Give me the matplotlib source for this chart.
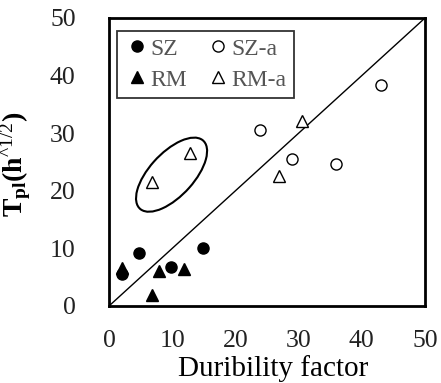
import matplotlib
matplotlib.use("Agg")
import matplotlib.pyplot as plt
from matplotlib.patches import Ellipse

plt.rcParams['font.family'] = ['Liberation Serif', 'DejaVu Serif']
plt.rcParams['mathtext.fontset'] = 'custom'
plt.rcParams['mathtext.rm'] = 'Liberation Serif'
plt.rcParams['mathtext.bf'] = 'Liberation Serif:bold'

# data
sz_x = [4.8, 2.0, 9.8, 14.9]
sz_y = [9.2, 5.6, 6.8, 10.0]
rm_x = [2.0, 7.9, 11.9, 6.8]
rm_y = [6.6, 6.0, 6.5, 1.9]
sza_x = [23.9, 28.9, 35.9, 43.0]
sza_y = [30.6, 25.6, 24.6, 38.4]
rma_x = [6.8, 12.8, 26.9, 30.5]
rma_y = [21.6, 26.6, 22.5, 32.2]
ticks = [0, 10, 20, 30, 40, 50]

fig = plt.figure(figsize=(4.41, 3.83), dpi=100)
ax = fig.add_axes([109 / 441, 1 - 306 / 383, 316 / 441, 288 / 383])

ms = 8
ax.plot(sz_x, sz_y, 'o', color='black', ms=ms, label='SZ', zorder=3)
ax.plot(sza_x, sza_y, 'o', mfc='white', mec='black', mew=1, ms=ms, label='SZ-a', zorder=3)
ax.plot(rm_x, rm_y, '^', color='black', ms=ms, label='RM', zorder=3)
ax.plot(rma_x, rma_y, '^', mfc='white', mec='black', mew=1, ms=ms, label='RM-a', zorder=3)
ax.plot([0, 50], [0, 50], color='black', lw=1, zorder=2)

ell = Ellipse((9.9, 22.8), width=15.5, height=7.2, angle=51, fill=False, ec='black', lw=1.5)
ax.add_patch(ell)

ax.set_xlim(0, 50)
ax.set_ylim(0, 50)
ax.set_xticks(ticks)
ax.set_yticks(ticks)
ax.tick_params(length=0, labelsize=18.5, labelcolor='#222222')
ax.tick_params(axis='x', pad=17)
ax.tick_params(axis='y', pad=24)
for s in ax.spines.values():
    s.set_linewidth(2)

ax.set_xlabel('Duribility factor', fontsize=21)
ax.xaxis.set_label_coords(0.52, -0.17)
ax.set_ylabel(r'$\mathbf{T_{pl}(h^{\text{^1/2}})}$', fontsize=20)
ax.yaxis.set_label_coords(-0.24, 0.49)

handles, labels = ax.get_legend_handles_labels()
order = [0, 2, 1, 3]
leg = ax.legend([handles[i] for i in order], [labels[i] for i in order], ncol=2,
                loc='upper left', bbox_to_anchor=(0.025, 0.955), fontsize=17,
                frameon=True, fancybox=False, edgecolor='black', handletextpad=0.0,
                handlelength=1.1, columnspacing=0.8, borderpad=0.3, labelspacing=0.4,
                borderaxespad=0.0)
leg.get_frame().set_linewidth(1.3)
for t in leg.get_texts():
    t.set_color('#555555')

fig.savefig('out.png', dpi=100)
